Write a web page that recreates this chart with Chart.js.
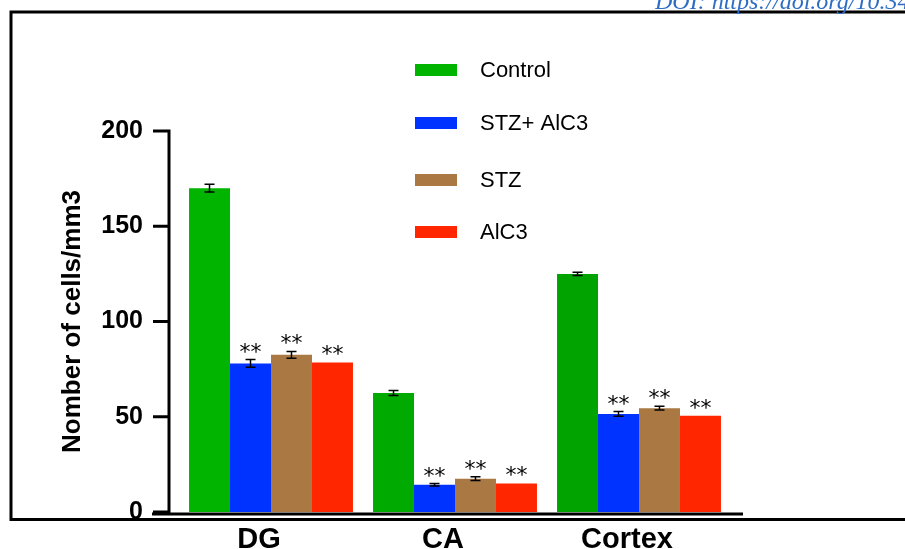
<!DOCTYPE html>
<html>
<head>
<meta charset="utf-8">
<script src="https://cdn.jsdelivr.net/npm/chart.js@4.4.1/dist/chart.umd.min.js"></script>
<style>
  html, body { margin: 0; padding: 0; background: #fff; }
  #wrap { width: 905px; height: 549px; position: relative; }
</style>
</head>
<body>
<div id="wrap"><canvas id="cellChart"></canvas></div>
<script>
// --- dados ---
const regions = ['DG', 'CA', 'Cortex'];
const seriesNames = ['Control', 'STZ+ AlC3', 'STZ', 'AlC3'];
const controlVals = [170, 62.5, 125];
const stzAlc3Vals = [78, 14.3, 51.5];
const stzVals = [82.5, 17.5, 54.5];
const alc3Vals = [78.5, 15, 50.5];
const controlErr = [2, 1.3, 0.8];
const stzAlc3Err = [2, 0.6, 1.2];
const stzErr = [1.8, 1, 1];
const alc3Err = [0, 0, 0];
const stzMarks = ['**', '**', '**'];
const noMarks = ['', '', ''];
const yTicks = [0, 50, 100, 150, 200];

const colors = ['#00B400', '#0033FF', '#A97843', '#FF2600'];
const font = '"Liberation Sans", Arial, sans-serif';

// eixos no estilo GraphPad + barras de erro + asteriscos + legenda
const extrasPlugin = {
    id: 'extras',
    afterDatasetsDraw(chart) {
        const ctx = chart.ctx;
        const y = chart.scales.y;
        ctx.save();
        ctx.strokeStyle = '#000';
        ctx.fillStyle = '#000';
        chart.data.datasets.forEach((ds, di) => {
            const meta = chart.getDatasetMeta(di);
            meta.data.forEach((bar, i) => {
                const v = ds.data[i], e = ds.err[i];
                let top = bar.y;
                if (e > 0) {
                    const yHi = y.getPixelForValue(v + e), yLo = y.getPixelForValue(v - e);
                    ctx.lineWidth = 1.5;
                    ctx.beginPath();
                    ctx.moveTo(bar.x, yHi); ctx.lineTo(bar.x, yLo);
                    ctx.moveTo(bar.x - 5, yHi); ctx.lineTo(bar.x + 5, yHi);
                    ctx.moveTo(bar.x - 5, yLo); ctx.lineTo(bar.x + 5, yLo);
                    ctx.stroke();
                    top = yHi;
                }
                const mark = ds.marks[i];
                if (mark) {
                    ctx.font = '22px "DejaVu Sans", sans-serif';
                    ctx.textAlign = 'center';
                    ctx.textBaseline = 'alphabetic';
                    const m = ctx.measureText(mark);
                    const mid = (m.actualBoundingBoxAscent - m.actualBoundingBoxDescent) / 2;
                    ctx.fillText(mark, bar.x, top - 12 + mid);
                }
            });
        });
        ctx.restore();
    },
    afterDraw(chart) {
        const ctx = chart.ctx;
        const y = chart.scales.y;
        const area = chart.chartArea;
        const axisX = area.left - 10;
        const axisY = y.getPixelForValue(0) + 2;
        ctx.save();
        ctx.strokeStyle = '#000';
        ctx.lineWidth = 3;
        ctx.beginPath();
        ctx.moveTo(axisX, y.getPixelForValue(200) - 1.5);
        ctx.lineTo(axisX, axisY);
        yTicks.forEach(t => {
            const py = y.getPixelForValue(t);
            ctx.moveTo(axisX - 16, py);
            ctx.lineTo(axisX, py);
        });
        ctx.moveTo(area.left - 27, axisY);
        ctx.lineTo(area.right + 12, axisY);
        ctx.stroke();

        // moldura da figura
        ctx.beginPath();
        ctx.moveTo(905, 12); ctx.lineTo(11, 12); ctx.lineTo(11, 519.5); ctx.lineTo(905, 519.5);
        ctx.stroke();

        // DOI cortado no topo
        ctx.fillStyle = '#2E6DC4';
        ctx.font = 'italic 24px "Liberation Serif", serif';
        ctx.textAlign = 'left';
        ctx.textBaseline = 'alphabetic';
        ctx.fillText('DOI: https://doi.org/10.34172', 655, 9);

        // legenda
        const legY = [70, 123, 180, 232];
        ctx.font = '22px ' + font;
        ctx.textBaseline = 'middle';
        chart.data.datasets.forEach((ds, i) => {
            ctx.fillStyle = colors[i];
            ctx.fillRect(415, legY[i] - 6, 42, 12);
            ctx.fillStyle = '#000';
            ctx.fillText(ds.label, 480, legY[i] + 1);
        });
        ctx.restore();
    }
};

new Chart(document.getElementById('cellChart'), {
    type: 'bar',
    data: {
        labels: regions,
        datasets: [
            { label: seriesNames[0], data: controlVals, err: controlErr, marks: noMarks, backgroundColor: ['#00B400', '#00AA00', '#00A300'] },
            { label: seriesNames[1], data: stzAlc3Vals, err: stzAlc3Err, marks: stzMarks, backgroundColor: colors[1] },
            { label: seriesNames[2], data: stzVals, err: stzErr, marks: stzMarks, backgroundColor: colors[2] },
            { label: seriesNames[3], data: alc3Vals, err: alc3Err, marks: stzMarks, backgroundColor: colors[3] }
        ]
    },
    options: {
        responsive: true, maintainAspectRatio: false, animation: false,
        categoryPercentage: 0.891, barPercentage: 1,
        layout: { padding: { left: 0, right: 174, top: 131, bottom: 0 } },
        plugins: { legend: { display: false }, tooltip: { enabled: false } },
        scales: {
            x: {
                grid: { display: false, drawTicks: false }, border: { display: false },
                ticks: { color: '#000', font: { family: font, size: 29, weight: 'bold' }, padding: 11, labelOffset: -12 },
                afterFit(s) { s.height = 37; }
            },
            y: {
                min: 0, max: 200,
                grid: { display: false, drawTicks: true, tickLength: 36 }, border: { display: false },
                ticks: { stepSize: 50, color: '#000', font: { family: font, size: 25, weight: 'bold' }, padding: 0 },
                title: { display: true, text: 'Nomber of cells/mm3', color: '#000', font: { family: font, size: 26, weight: 'bold' }, padding: { top: 57, bottom: 0 } },
                afterFit(s) { s.width = 179; }
            }
        }
    },
    plugins: [extrasPlugin]
});
</script>
</body>
</html>
